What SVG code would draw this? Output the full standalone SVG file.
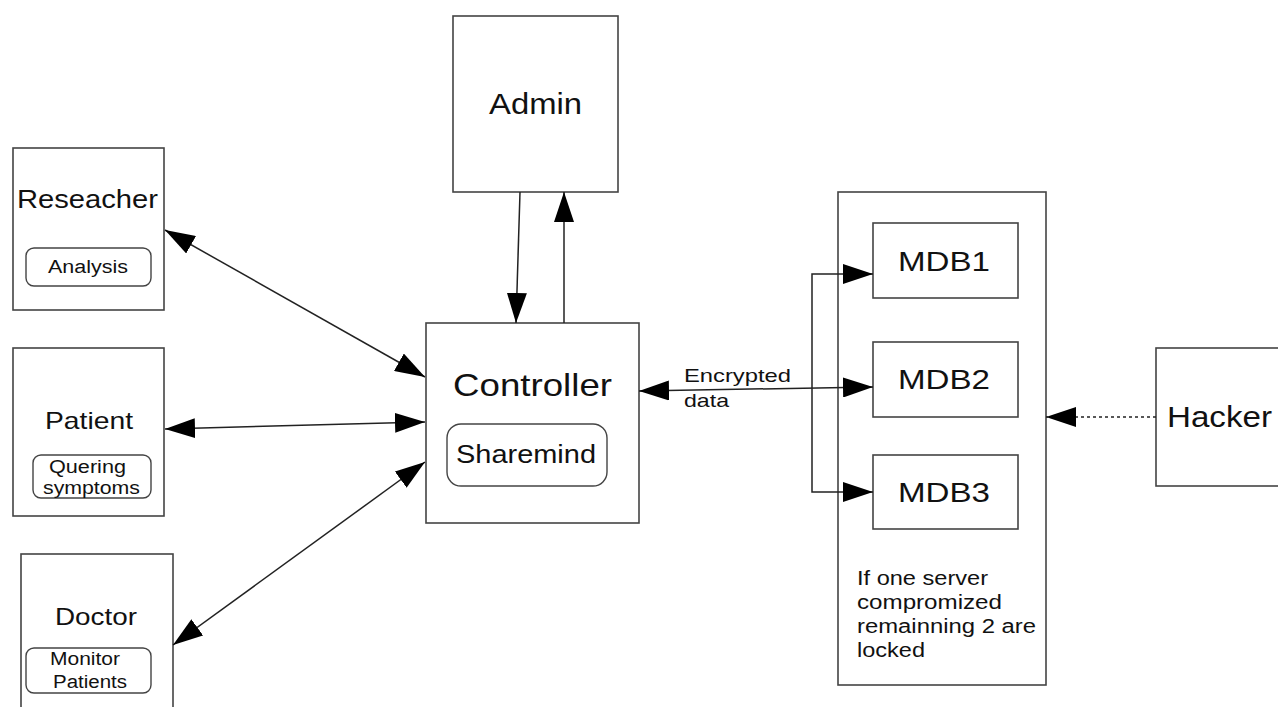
<svg xmlns="http://www.w3.org/2000/svg" width="1278" height="707" viewBox="0 0 1278 707">
<style>
.box{fill:#fff;stroke:#444;stroke-width:1.6}
.rbox{fill:#fff;stroke:#444;stroke-width:1.4}
.t{font-family:"Liberation Sans",Arial,sans-serif;fill:#111}
.c{stroke:#222;stroke-width:1.5;fill:none}
</style>
<defs>
<marker id="ah" viewBox="0 0 30 20" refX="30" refY="10" markerWidth="30" markerHeight="20" markerUnits="userSpaceOnUse" orient="auto-start-reverse">
<path d="M0,0 L30,10 L0,20 z" fill="#000"/>
</marker>
</defs>
<rect width="1278" height="707" fill="#fff"/>

<g id="researcher">
<rect class="box" x="13" y="148" width="151" height="162"/>
<text class="t" x="17" y="208" font-size="25" textLength="141" lengthAdjust="spacingAndGlyphs">Reseacher</text>
<rect class="rbox" x="26" y="248" width="125" height="38" rx="8"/>
<text class="t" x="48" y="273" font-size="18" textLength="80" lengthAdjust="spacingAndGlyphs">Analysis</text>
</g>

<g id="patient">
<rect class="box" x="13" y="348" width="151" height="168"/>
<text class="t" x="45" y="429" font-size="24" textLength="88" lengthAdjust="spacingAndGlyphs">Patient</text>
<rect class="rbox" x="33" y="455" width="118" height="43" rx="8"/>
<text class="t" x="49" y="473" font-size="18" textLength="77" lengthAdjust="spacingAndGlyphs">Quering</text>
<text class="t" x="43" y="494" font-size="18" textLength="97" lengthAdjust="spacingAndGlyphs">symptoms</text>
</g>

<g id="doctor">
<rect class="box" x="21" y="554" width="152" height="170"/>
<text class="t" x="55" y="625" font-size="24" textLength="82" lengthAdjust="spacingAndGlyphs">Doctor</text>
<rect class="rbox" x="26" y="648" width="125" height="45" rx="8"/>
<text class="t" x="50" y="665" font-size="18" textLength="70" lengthAdjust="spacingAndGlyphs">Monitor</text>
<text class="t" x="53" y="688" font-size="18" textLength="74" lengthAdjust="spacingAndGlyphs">Patients</text>
</g>

<g id="admin">
<rect class="box" x="453" y="16" width="165" height="176"/>
<text class="t" x="489" y="114" font-size="29" textLength="93" lengthAdjust="spacingAndGlyphs">Admin</text>
</g>

<g id="controller">
<rect class="box" x="426" y="323" width="213" height="200"/>
<text class="t" x="453" y="396" font-size="32" textLength="159" lengthAdjust="spacingAndGlyphs">Controller</text>
<rect class="rbox" x="447" y="424" width="160" height="62" rx="14"/>
<text class="t" x="456" y="463" font-size="25" textLength="140" lengthAdjust="spacingAndGlyphs">Sharemind</text>
</g>

<g id="mdb-cluster">
<rect class="box" x="838" y="192" width="208" height="493"/>
<text class="t" x="857" y="585" font-size="20" textLength="131" lengthAdjust="spacingAndGlyphs">If one server</text>
<text class="t" x="857" y="609" font-size="20" textLength="145" lengthAdjust="spacingAndGlyphs">compromized</text>
<text class="t" x="857" y="633" font-size="20" textLength="179" lengthAdjust="spacingAndGlyphs">remainning 2 are</text>
<text class="t" x="857" y="657" font-size="20" textLength="68" lengthAdjust="spacingAndGlyphs">locked</text>
</g>

<g id="mdb1">
<rect class="box" x="873" y="223" width="145" height="75"/>
<text class="t" x="898" y="271" font-size="28" textLength="92" lengthAdjust="spacingAndGlyphs">MDB1</text>
</g>
<g id="mdb2">
<rect class="box" x="873" y="342" width="145" height="75"/>
<text class="t" x="898" y="389" font-size="28" textLength="92" lengthAdjust="spacingAndGlyphs">MDB2</text>
</g>
<g id="mdb3">
<rect class="box" x="873" y="455" width="145" height="74"/>
<text class="t" x="898" y="502" font-size="28" textLength="92" lengthAdjust="spacingAndGlyphs">MDB3</text>
</g>

<g id="hacker">
<rect class="box" x="1156" y="348" width="140" height="138"/>
<text class="t" x="1167" y="427" font-size="30" textLength="105" lengthAdjust="spacingAndGlyphs">Hacker</text>
</g>

<g id="connectors">
<line class="c" x1="165" y1="230" x2="425" y2="377" marker-start="url(#ah)" marker-end="url(#ah)"/>
<line class="c" x1="165" y1="429" x2="425" y2="422" marker-start="url(#ah)" marker-end="url(#ah)"/>
<line class="c" x1="173" y1="645" x2="425" y2="462" marker-start="url(#ah)" marker-end="url(#ah)"/>
<line class="c" x1="520" y1="192" x2="516" y2="323" marker-end="url(#ah)"/>
<line class="c" x1="564" y1="323" x2="564" y2="192" marker-end="url(#ah)"/>
<line class="c" x1="873" y1="387" x2="639" y2="391" marker-start="url(#ah)" marker-end="url(#ah)"/>
<polyline class="c" points="873,274 812,274 812,492 873,492" marker-start="url(#ah)" marker-end="url(#ah)"/>
<line class="c" x1="1156" y1="417" x2="1046" y2="417" stroke-dasharray="3,3" marker-end="url(#ah)"/>
<text class="t" x="684" y="382" font-size="19" textLength="107" lengthAdjust="spacingAndGlyphs">Encrypted</text>
<text class="t" x="684" y="407" font-size="19" textLength="45" lengthAdjust="spacingAndGlyphs">data</text>
</g>
</svg>
